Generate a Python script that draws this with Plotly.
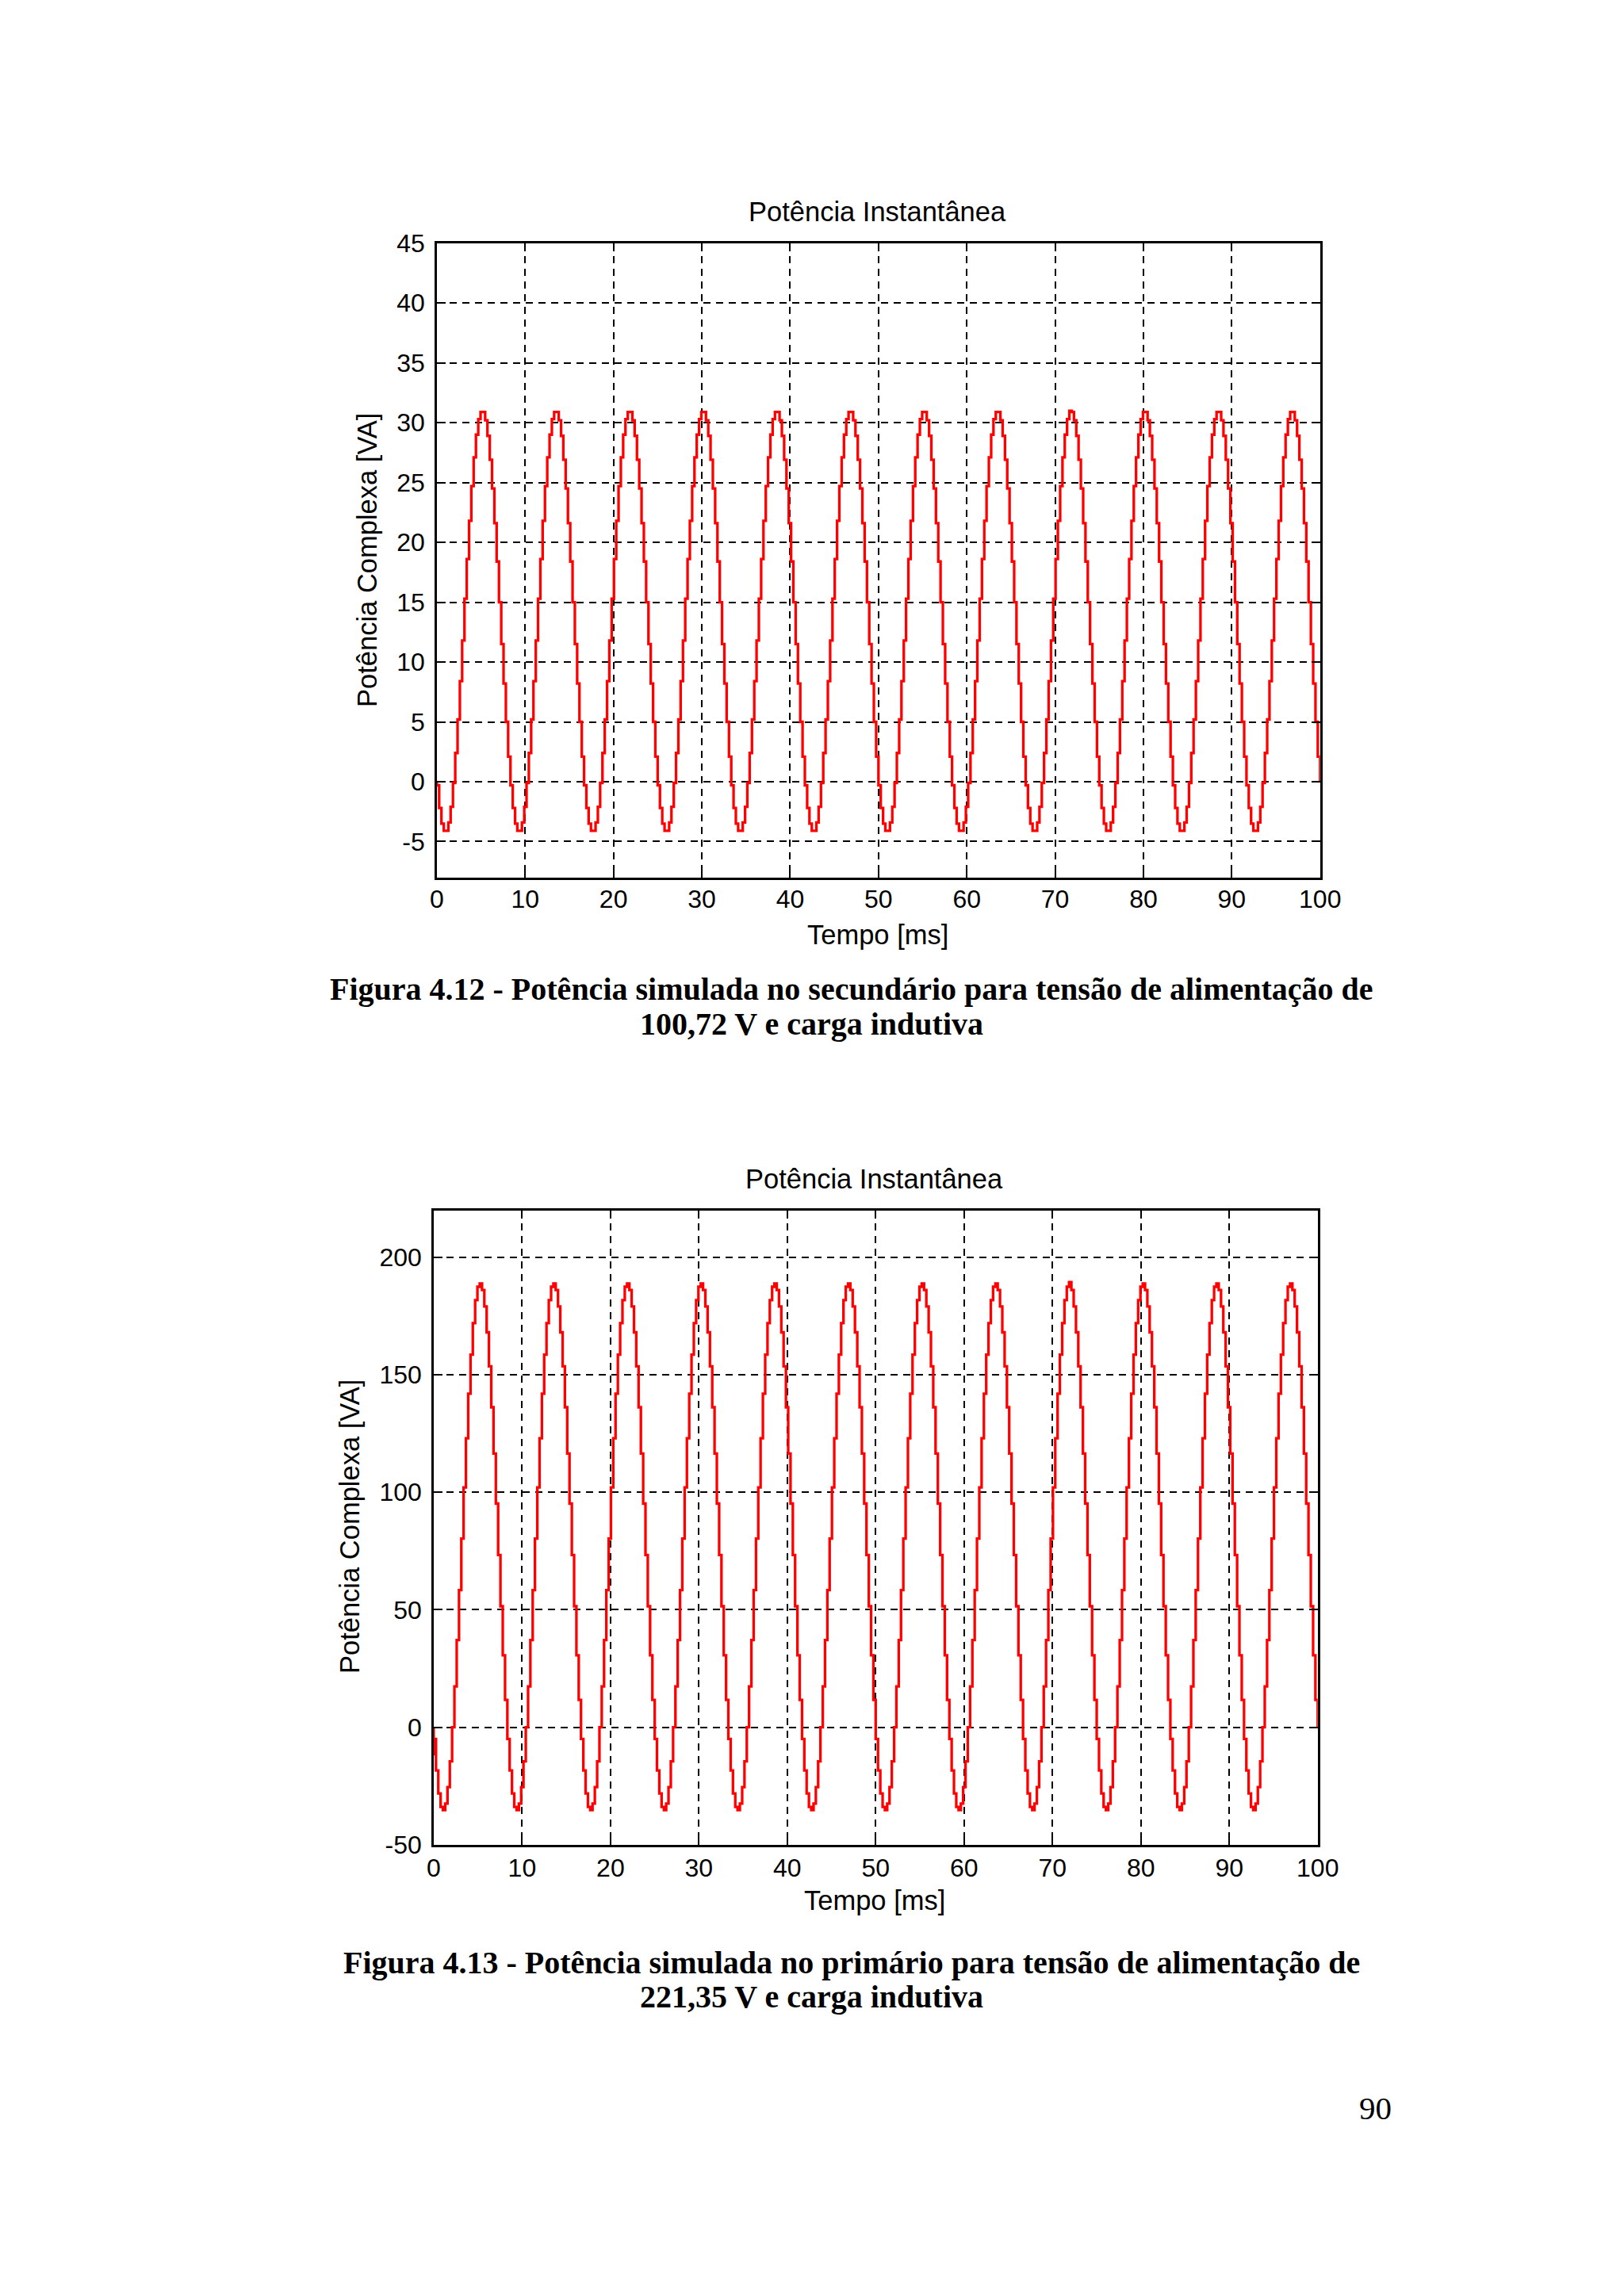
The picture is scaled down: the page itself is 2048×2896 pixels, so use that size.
import plotly.graph_objects as go

# ---------------- data ----------------
SAMPLE_MS = 100 / 384          # sampling step of the simulated waveform (ms)
X_TICKS = [0, 10, 20, 30, 40, 50, 60, 70, 80, 90, 100]
Y1_TICKS = [-5, 0, 5, 10, 15, 20, 25, 30, 35, 40, 45]
Y2_TICKS = [-50, 0, 50, 100, 150, 200]

# Figura 4.12 - secondary power [VA], 12 cycles of 32 samples
p_secundario = [
    -0.3, -2.2, -3.5, -4.1, -4.1, -3.4, -2.1, -0.1, 2.4, 5.2, 8.4, 11.8, 15.3, 18.6, 21.8, 24.7, 27.1, 29.0, 30.3, 30.9, 30.9, 30.2, 28.9, 26.9, 24.5, 21.6, 18.4, 15.0, 11.5, 8.2, 5.0, 2.1,
    -0.3, -2.2, -3.5, -4.1, -4.1, -3.4, -2.1, -0.1, 2.4, 5.2, 8.4, 11.8, 15.3, 18.6, 21.8, 24.7, 27.1, 29.0, 30.3, 30.9, 30.9, 30.2, 28.9, 26.9, 24.5, 21.6, 18.4, 15.0, 11.5, 8.2, 5.0, 2.1,
    -0.3, -2.2, -3.5, -4.1, -4.1, -3.4, -2.1, -0.1, 2.4, 5.2, 8.4, 11.8, 15.3, 18.6, 21.8, 24.7, 27.1, 29.0, 30.3, 30.9, 30.9, 30.2, 28.9, 26.9, 24.5, 21.6, 18.4, 15.0, 11.5, 8.2, 5.0, 2.1,
    -0.3, -2.2, -3.5, -4.1, -4.1, -3.4, -2.1, -0.1, 2.4, 5.2, 8.4, 11.8, 15.3, 18.6, 21.8, 24.7, 27.1, 29.0, 30.3, 30.9, 30.9, 30.2, 28.9, 26.9, 24.5, 21.6, 18.4, 15.0, 11.5, 8.2, 5.0, 2.1,
    -0.3, -2.2, -3.5, -4.1, -4.1, -3.4, -2.1, -0.1, 2.4, 5.2, 8.4, 11.8, 15.3, 18.6, 21.8, 24.7, 27.1, 29.0, 30.3, 30.9, 30.9, 30.2, 28.9, 26.9, 24.5, 21.6, 18.4, 15.0, 11.5, 8.2, 5.0, 2.1,
    -0.3, -2.2, -3.5, -4.1, -4.1, -3.4, -2.1, -0.1, 2.4, 5.2, 8.4, 11.8, 15.3, 18.6, 21.8, 24.7, 27.1, 29.0, 30.3, 30.9, 30.9, 30.2, 28.9, 26.9, 24.5, 21.6, 18.4, 15.0, 11.5, 8.2, 5.0, 2.1,
    -0.3, -2.2, -3.5, -4.1, -4.1, -3.4, -2.1, -0.1, 2.4, 5.2, 8.4, 11.8, 15.3, 18.6, 21.8, 24.7, 27.1, 29.0, 30.3, 30.9, 30.9, 30.2, 28.9, 26.9, 24.5, 21.6, 18.4, 15.0, 11.5, 8.2, 5.0, 2.1,
    -0.3, -2.2, -3.5, -4.1, -4.1, -3.4, -2.1, -0.1, 2.4, 5.2, 8.4, 11.8, 15.3, 18.6, 21.8, 24.7, 27.1, 29.0, 30.3, 30.9, 30.9, 30.2, 28.9, 26.9, 24.5, 21.6, 18.4, 15.0, 11.5, 8.2, 5.0, 2.1,
    -0.3, -2.2, -3.5, -4.1, -4.1, -3.4, -2.1, -0.1, 2.4, 5.2, 8.4, 11.8, 15.3, 18.6, 21.8, 24.7, 27.1, 29.0, 30.3, 31.0, 30.9, 30.2, 28.9, 26.9, 24.5, 21.6, 18.4, 15.0, 11.5, 8.2, 5.0, 2.1,
    -0.3, -2.2, -3.5, -4.1, -4.1, -3.4, -2.1, -0.1, 2.4, 5.2, 8.4, 11.8, 15.3, 18.6, 21.8, 24.7, 27.1, 29.0, 30.3, 30.9, 30.9, 30.2, 28.9, 26.9, 24.5, 21.6, 18.4, 15.0, 11.5, 8.2, 5.0, 2.1,
    -0.3, -2.2, -3.5, -4.1, -4.1, -3.4, -2.1, -0.1, 2.4, 5.2, 8.4, 11.8, 15.3, 18.6, 21.8, 24.7, 27.1, 29.0, 30.3, 30.9, 30.9, 30.2, 28.9, 26.9, 24.5, 21.6, 18.4, 15.0, 11.5, 8.2, 5.0, 2.1,
    -0.3, -2.2, -3.5, -4.1, -4.1, -3.4, -2.1, -0.1, 2.4, 5.2, 8.4, 11.8, 15.3, 18.6, 21.8, 24.7, 27.1, 29.0, 30.3, 30.9, 30.9, 30.2, 28.9, 26.9, 24.5, 21.6, 18.4, 15.0, 11.5, 8.2, 5.0, 2.1,
]

# Figura 4.13 - primary power [VA], 12 cycles of 32 samples
p_primario = [
    -5.0, -18.4, -28.2, -33.9, -35.3, -32.5, -25.5, -14.5, 0.0, 17.4, 37.1, 58.4, 80.3, 102.1, 123.0, 142.0, 158.6, 172.0, 181.8, 187.5, 188.9, 186.1, 179.1, 168.1, 153.6, 136.2, 116.5, 95.2, 73.3, 51.5, 30.6, 11.6,
    -5.0, -18.4, -28.2, -33.9, -35.3, -32.5, -25.5, -14.5, 0.0, 17.4, 37.1, 58.4, 80.3, 102.1, 123.0, 142.0, 158.6, 172.0, 181.8, 187.5, 188.9, 186.1, 179.1, 168.1, 153.6, 136.2, 116.5, 95.2, 73.3, 51.5, 30.6, 11.6,
    -5.0, -18.4, -28.2, -33.9, -35.3, -32.5, -25.5, -14.5, 0.0, 17.4, 37.1, 58.4, 80.3, 102.1, 123.0, 142.0, 158.6, 172.0, 181.8, 187.5, 188.9, 186.1, 179.1, 168.1, 153.6, 136.2, 116.5, 95.2, 73.3, 51.5, 30.6, 11.6,
    -5.0, -18.4, -28.2, -33.9, -35.3, -32.5, -25.5, -14.5, 0.0, 17.4, 37.1, 58.4, 80.3, 102.1, 123.0, 142.0, 158.6, 172.0, 181.8, 187.5, 188.9, 186.1, 179.1, 168.1, 153.6, 136.2, 116.5, 95.2, 73.3, 51.5, 30.6, 11.6,
    -5.0, -18.4, -28.2, -33.9, -35.3, -32.5, -25.5, -14.5, 0.0, 17.4, 37.1, 58.4, 80.3, 102.1, 123.0, 142.0, 158.6, 172.0, 181.8, 187.5, 188.9, 186.1, 179.1, 168.1, 153.6, 136.2, 116.5, 95.2, 73.3, 51.5, 30.6, 11.6,
    -5.0, -18.4, -28.2, -33.9, -35.3, -32.5, -25.5, -14.5, 0.0, 17.4, 37.1, 58.4, 80.3, 102.1, 123.0, 142.0, 158.6, 172.0, 181.8, 187.5, 188.9, 186.1, 179.1, 168.1, 153.6, 136.2, 116.5, 95.2, 73.3, 51.5, 30.6, 11.6,
    -5.0, -18.4, -28.2, -33.9, -35.3, -32.5, -25.5, -14.5, 0.0, 17.4, 37.1, 58.4, 80.3, 102.1, 123.0, 142.0, 158.6, 172.0, 181.8, 187.5, 188.9, 186.1, 179.1, 168.1, 153.6, 136.2, 116.5, 95.2, 73.3, 51.5, 30.6, 11.6,
    -5.0, -18.4, -28.2, -33.9, -35.3, -32.5, -25.5, -14.5, 0.0, 17.4, 37.1, 58.4, 80.3, 102.1, 123.0, 142.0, 158.6, 172.0, 181.8, 187.5, 188.9, 186.1, 179.1, 168.1, 153.6, 136.2, 116.5, 95.2, 73.3, 51.5, 30.6, 11.6,
    -5.0, -18.4, -28.2, -33.9, -35.3, -32.5, -25.5, -14.5, 0.0, 17.4, 37.1, 58.4, 80.3, 102.1, 123.0, 142.0, 158.6, 172.0, 181.8, 187.5, 189.5, 186.1, 179.1, 168.1, 153.6, 136.2, 116.5, 95.2, 73.3, 51.5, 30.6, 11.6,
    -5.0, -18.4, -28.2, -33.9, -35.3, -32.5, -25.5, -14.5, 0.0, 17.4, 37.1, 58.4, 80.3, 102.1, 123.0, 142.0, 158.6, 172.0, 181.8, 187.5, 188.9, 186.1, 179.1, 168.1, 153.6, 136.2, 116.5, 95.2, 73.3, 51.5, 30.6, 11.6,
    -5.0, -18.4, -28.2, -33.9, -35.3, -32.5, -25.5, -14.5, 0.0, 17.4, 37.1, 58.4, 80.3, 102.1, 123.0, 142.0, 158.6, 172.0, 181.8, 187.5, 188.9, 186.1, 179.1, 168.1, 153.6, 136.2, 116.5, 95.2, 73.3, 51.5, 30.6, 11.6,
    -5.0, -18.4, -28.2, -33.9, -35.3, -32.5, -25.5, -14.5, 0.0, 17.4, 37.1, 58.4, 80.3, 102.1, 123.0, 142.0, 158.6, 172.0, 181.8, 187.5, 188.9, 186.1, 179.1, 168.1, 153.6, 136.2, 116.5, 95.2, 73.3, 51.5, 30.6, 11.6,
]

# the recorded signal starts and ends at 0
START_VALUE = 0.0
START_JUMP = -12.0
END_VALUE = 0.0
END_TIME_MS = 100.0

TITLE = "Potência Instantânea"
X_TITLE = "Tempo [ms]"
Y_TITLE = "Potência Complexa [VA]"
CAPTION_1 = ["Figura 4.12 - Potência simulada no secundário para tensão de alimentação de",
             "100,72 V e carga indutiva"]
CAPTION_2 = ["Figura 4.13 - Potência simulada no primário para tensão de alimentação de",
             "221,35 V e carga indutiva"]
PAGE_NUMBER = "90"


def series(values, first_jump=None):
    t = [0.0] + [k * SAMPLE_MS for k in range(len(values))] + [END_TIME_MS, END_TIME_MS]
    y = [START_VALUE] + list(values) + [values[-1], END_VALUE]
    if first_jump is not None:
        t.insert(1, 0.0)
        y.insert(1, first_jump)
    return t, y


W, H = 2048, 2896
SANS = "Liberation Sans, Arial, Helvetica, sans-serif"
SERIF = "Liberation Serif, Times New Roman, serif"

# the page photograph shows the figure slightly scaled; map target pixels -> paper
SX, OX = 0.9861, 13.1
SY, OY = 0.990, 22.6


def PX(p):
    return ((p - OX) / SX) / W


def PY(p):
    return 1 - ((p - OY) / SY) / H


fig = go.Figure()
for vals, xa, ya, jump in [(p_secundario, "x", "y", None), (p_primario, "x2", "y2", START_JUMP)]:
    t, y = series(vals, jump)
    fig.add_trace(go.Scatter(x=t, y=y, mode="lines", xaxis=xa, yaxis=ya,
                             line=dict(color="#ff0000", width=3.3, shape="hv"),
                             showlegend=False, hoverinfo="skip"))

axis_common = dict(
    showline=True, linecolor="black", linewidth=2.5, mirror="ticks",
    ticks="inside", ticklen=11, tickwidth=2, tickcolor="black",
    showgrid=True, gridcolor="black", gridwidth=2, griddash="9px,7px",
    zeroline=False, tickfont=dict(family=SANS, size=32, color="black"),
    fixedrange=True,
)

# pixel boxes of the two plot areas (in the reference)
box1 = dict(l=549, r=1667, t=304, b=1106)
box2 = dict(l=545, r=1664, t=1527, b=2329)


def xdom(b):
    return [PX(b["l"]), PX(b["r"])]


def ydom(b):
    return [PY(b["b"]), PY(b["t"])]


def labels(vals):
    return [str(v) for v in vals]


fig.update_layout(
    width=W, height=H, autosize=False,
    margin=dict(l=0, r=0, t=0, b=0),
    paper_bgcolor="white", plot_bgcolor="white",
    xaxis=dict(domain=xdom(box1), anchor="y", range=[0, 100], tickvals=X_TICKS,
               ticktext=labels(X_TICKS), ticklabelstandoff=-3, **axis_common),
    yaxis=dict(domain=ydom(box1), anchor="x", range=[-8, 45], tickvals=Y1_TICKS,
               ticktext=labels(Y1_TICKS), ticklabelstandoff=6, **axis_common),
    xaxis2=dict(domain=xdom(box2), anchor="y2", range=[0, 100], tickvals=X_TICKS,
                ticktext=labels(X_TICKS), ticklabelstandoff=-1, **axis_common),
    yaxis2=dict(domain=ydom(box2), anchor="x2", range=[-50, 220], tickvals=Y2_TICKS,
                ticktext=labels(Y2_TICKS), ticklabelstandoff=6, **axis_common),
)


def ann(text, xpx, ypx, size, family, angle=0, bold=False):
    if bold:
        text = "<b>" + text + "</b>"
    fig.add_annotation(text=text, x=PX(xpx), y=PY(ypx), xref="paper", yref="paper",
                       xanchor="center", yanchor="middle", showarrow=False, textangle=angle,
                       font=dict(family=family, size=size, color="black"))


# chart 1 texts
ann(TITLE, 1107, 264, 34.5, SANS)
ann(X_TITLE, 1107, 1178, 34.5, SANS)
ann(Y_TITLE, 460, 705, 34.5, SANS, angle=-90)
ann(CAPTION_1[0], 1074, 1247, 40, SERIF, bold=True)
ann(CAPTION_1[1], 1023, 1291, 40, SERIF, bold=True)

# chart 2 texts
ann(TITLE, 1103, 1487, 34.5, SANS)
ann(X_TITLE, 1103, 2399, 34.5, SANS)
ann(Y_TITLE, 438, 1927, 34.5, SANS, angle=-90)
ann(CAPTION_2[0], 1074, 2478, 40, SERIF, bold=True)
ann(CAPTION_2[1], 1023, 2521, 40, SERIF, bold=True)

ann(PAGE_NUMBER, 1737, 2662, 41, SERIF)

fig.write_html("out.html")
